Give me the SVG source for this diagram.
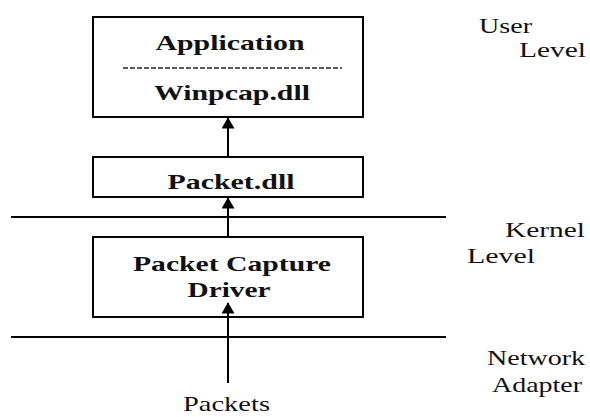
<svg xmlns="http://www.w3.org/2000/svg" width="590" height="417" viewBox="0 0 590 417">
<defs>
<style>
.box{fill:#fff;stroke:#000;stroke-width:2}
.b{font-family:"Liberation Serif","Times New Roman",serif;font-weight:bold;font-size:22px;fill:#111}
.l{font-family:"Liberation Serif","Times New Roman",serif;font-size:21px;fill:#111}
.ln{stroke:#000;stroke-width:2;fill:none}
</style>
<marker id="ah" markerWidth="16" markerHeight="13" refX="13" refY="8" orient="auto" markerUnits="userSpaceOnUse" viewBox="0 0 14 16">
<path d="M0,0 L14,8 L0,16 Z" fill="#000"/>
</marker>
</defs>
<rect width="590" height="417" fill="#fff"/>
<g id="layers">
<line class="ln" x1="11" y1="217" x2="446" y2="217"/>
<line class="ln" x1="11" y1="337" x2="446" y2="337"/>
</g>
<g id="app">
<rect class="box" x="93" y="17" width="270" height="100" stroke-width="3"/>
<text class="b" x="230" y="50" text-anchor="middle" textLength="149" lengthAdjust="spacingAndGlyphs">Application</text>
<line x1="123" y1="68" x2="342" y2="68" stroke="#223" stroke-width="1.3" stroke-dasharray="5 2"/>
<text class="b" x="232" y="100" text-anchor="middle" textLength="156" lengthAdjust="spacingAndGlyphs">Winpcap.dll</text>
</g>
<g id="packetdll">
<rect class="box" x="93" y="157" width="270" height="40"/>
<text class="b" x="231" y="189" text-anchor="middle" textLength="127" lengthAdjust="spacingAndGlyphs">Packet.dll</text>
</g>
<g id="driver">
<rect class="box" x="93" y="237" width="270" height="80"/>
<text class="b" x="232" y="271" text-anchor="middle" textLength="198" lengthAdjust="spacingAndGlyphs">Packet Capture</text>
<text class="b" x="229" y="297" text-anchor="middle" textLength="83" lengthAdjust="spacingAndGlyphs">Driver</text>
</g>
<g id="labels">
<text class="l" x="479" y="33" textLength="53" lengthAdjust="spacingAndGlyphs">User</text>
<text class="l" x="519" y="57" textLength="67" lengthAdjust="spacingAndGlyphs">Level</text>
<text class="l" x="505" y="237" textLength="80" lengthAdjust="spacingAndGlyphs">Kernel</text>
<text class="l" x="467" y="263" textLength="68" lengthAdjust="spacingAndGlyphs">Level</text>
<text class="l" x="487" y="365" textLength="98" lengthAdjust="spacingAndGlyphs">Network</text>
<text class="l" x="492" y="392" textLength="90" lengthAdjust="spacingAndGlyphs">Adapter</text>
<text class="l" x="183" y="411" textLength="87" lengthAdjust="spacingAndGlyphs">Packets</text>
</g>
<g id="connectors">
<line class="ln" x1="228" y1="157" x2="228" y2="118" marker-end="url(#ah)"/>
<line class="ln" x1="228" y1="237" x2="228" y2="198" marker-end="url(#ah)"/>
<line class="ln" x1="228" y1="383" x2="228" y2="303" marker-end="url(#ah)"/>
</g>
</svg>
